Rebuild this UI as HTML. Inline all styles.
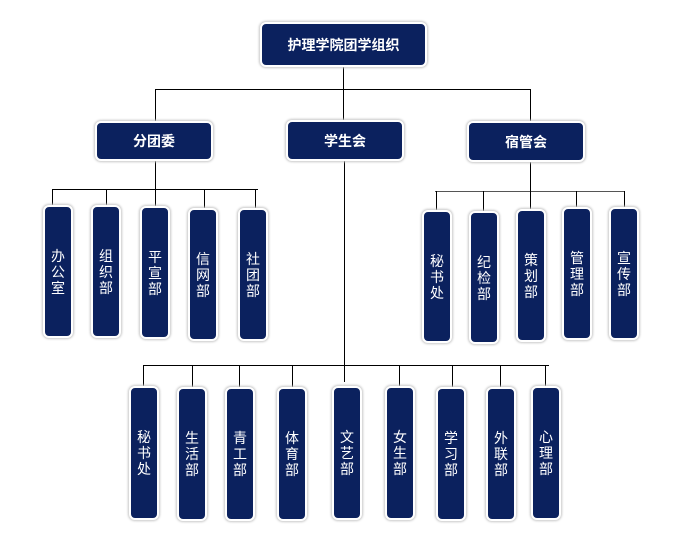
<!DOCTYPE html>
<html><head><meta charset="utf-8"><style>
body{margin:0;width:674px;height:535px;background:#fff;position:relative;overflow:hidden;font-family:"Liberation Sans","Noto Sans CJK SC",sans-serif}
.b{position:absolute;background:#0b215e;border:2px solid #fff;border-radius:6px;box-shadow:0 0 2px 1px #c8c8c8;color:#fff;display:flex;align-items:center;justify-content:center;box-sizing:border-box}
.h{font-weight:bold;font-size:14px}
.v{font-size:14px;line-height:16px;width:30px;text-align:center;padding:0 6px;word-break:break-all}
.l{position:absolute;background:#000}
</style></head><body>
<div class="l" style="left:343px;top:66px;width:1px;height:56px"></div>
<div class="l" style="left:155px;top:89px;width:376px;height:1px"></div>
<div class="l" style="left:155px;top:89px;width:1px;height:33px"></div>
<div class="l" style="left:530px;top:89px;width:1px;height:33px"></div>
<div class="l" style="left:155px;top:160px;width:1px;height:30px"></div>
<div class="l" style="left:52px;top:189px;width:206px;height:1px"></div>
<div class="l" style="left:52px;top:189px;width:1px;height:18px"></div>
<div class="l" style="left:106px;top:189px;width:1px;height:18px"></div>
<div class="l" style="left:155px;top:189px;width:1px;height:19px"></div>
<div class="l" style="left:204px;top:189px;width:1px;height:20px"></div>
<div class="l" style="left:255px;top:189px;width:1px;height:21px"></div>
<div class="l" style="left:530px;top:161px;width:1px;height:31px"></div>
<div class="l" style="left:435px;top:191px;width:190px;height:1px;background:#555"></div>
<div class="l" style="left:436px;top:191px;width:1px;height:21px"></div>
<div class="l" style="left:483px;top:191px;width:1px;height:22px"></div>
<div class="l" style="left:530px;top:191px;width:1px;height:20px"></div>
<div class="l" style="left:576px;top:191px;width:1px;height:18px"></div>
<div class="l" style="left:624px;top:191px;width:1px;height:18px"></div>
<div class="l" style="left:344px;top:160px;width:1px;height:222px"></div>
<div class="l" style="left:143px;top:365px;width:406px;height:1px"></div>
<div class="l" style="left:143px;top:365px;width:1px;height:22px"></div>
<div class="l" style="left:192px;top:365px;width:1px;height:22px"></div>
<div class="l" style="left:239px;top:365px;width:1px;height:22px"></div>
<div class="l" style="left:292px;top:365px;width:1px;height:22px"></div>
<div class="l" style="left:399px;top:365px;width:1px;height:22px"></div>
<div class="l" style="left:452px;top:365px;width:1px;height:22px"></div>
<div class="l" style="left:500px;top:365px;width:1px;height:22px"></div>
<div class="l" style="left:545px;top:365px;width:1px;height:22px"></div>

<div class="b h" style="left:260px;top:22px;width:167px;height:45px">护理学院团学组织</div>
<div class="b h" style="left:95px;top:121px;width:118px;height:40px">分团委</div>
<div class="b h" style="left:286px;top:120px;width:118px;height:41px">学生会</div>
<div class="b h" style="left:467px;top:121px;width:118px;height:41px">宿管会</div>

<div class="b v" style="left:43px;top:205px;height:133px">办公室</div>
<div class="b v" style="left:91px;top:205px;height:133px">组织部</div>
<div class="b v" style="left:140px;top:206px;height:133px">平宣部</div>
<div class="b v" style="left:188px;top:208px;height:133px">信网部</div>
<div class="b v" style="left:238px;top:208px;height:133px">社团部</div>

<div class="b v" style="left:422px;top:210px;height:133px">秘书处</div>
<div class="b v" style="left:469px;top:211px;height:133px">纪检部</div>
<div class="b v" style="left:516px;top:209px;height:133px">策划部</div>
<div class="b v" style="left:562px;top:207px;height:133px">管理部</div>
<div class="b v" style="left:609px;top:207px;height:133px">宣传部</div>

<div class="b v" style="left:129px;top:386px;height:134px">秘书处</div>
<div class="b v" style="left:177px;top:387px;height:134px">生活部</div>
<div class="b v" style="left:225px;top:387px;height:134px">青工部</div>
<div class="b v" style="left:277px;top:387px;height:134px">体育部</div>
<div class="b v" style="left:332px;top:386px;height:134px">文艺部</div>
<div class="b v" style="left:385px;top:386px;height:134px">女生部</div>
<div class="b v" style="left:436px;top:387px;height:134px">学习部</div>
<div class="b v" style="left:486px;top:387px;height:134px">外联部</div>
<div class="b v" style="left:531px;top:386px;height:134px">心理部</div>
</body></html>
